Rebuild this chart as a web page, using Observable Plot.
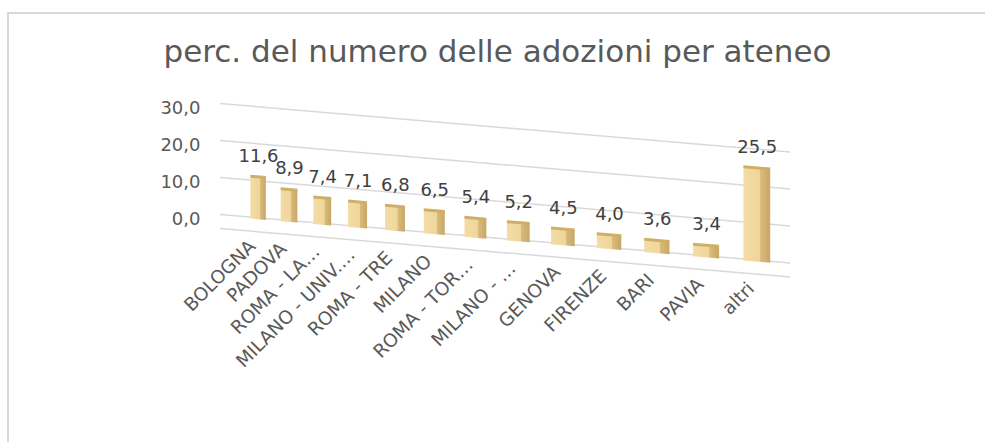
<!DOCTYPE html>
<html><head><meta charset="utf-8">
<script src="https://cdn.jsdelivr.net/npm/d3@7"></script>
<script src="https://cdn.jsdelivr.net/npm/@observablehq/plot@0.6"></script>
<style>
html,body{margin:0;padding:0;background:#fff;overflow:hidden;}
#chart{position:relative;width:985px;height:442px;overflow:hidden;font-family:"DejaVu Sans",Verdana,sans-serif;background:#fff;}
#frame{position:absolute;left:7px;top:12px;width:2000px;height:1000px;border-left:2px solid #d9d9d9;border-top:2px solid #d9d9d9;}
#title{position:absolute;left:5px;width:985px;top:36px;text-align:center;font-size:31px;line-height:31px;color:#595959;white-space:nowrap;}
#chart svg{position:absolute;left:0;top:0;}
</style></head><body>
<div id="chart"><div id="frame"></div><div id="title">perc. del numero delle adozioni per ateneo</div></div>
<script>
const categories = ["BOLOGNA","PADOVA","ROMA - LA…","MILANO - UNIV.…","ROMA - TRE","MILANO","ROMA - TOR…","MILANO - …","GENOVA","FIRENZE","BARI","PAVIA","altri"];
const values = [11.6, 8.9, 7.4, 7.1, 6.8, 6.5, 5.4, 5.2, 4.5, 4.0, 3.6, 3.4, 25.5];
const yTicks = [0, 10, 20, 30];

const OFFSET = 6; // index offset for the perspective (pow) scale
const data = categories.map((c, i) => ({name: c, value: values[i], pos: i + OFFSET}));
const fmt = v => v.toFixed(1).replace(".", ",");
const HALF = 0.26;
const SLOPE = 0.085, X0 = 220;
const ang = Math.atan(SLOPE) * 180 / Math.PI;

const svg = Plot.plot({
  width: 985, height: 442,
  marginLeft: 220, marginRight: 195, marginTop: 103, marginBottom: 228,
  x: {type: "pow", exponent: 1.5, domain: [4.64, 18.64]},
  y: {domain: [0, 30]},
  style: {fontFamily: "'DejaVu Sans', Verdana, sans-serif", background: "transparent", overflow: "visible"},
  marks: [
    Plot.ruleY(yTicks, {stroke: "#d9d9d9", strokeWidth: 1.5}),
    Plot.ruleY([0], {stroke: "#d9d9d9", strokeWidth: 1.5, dy: 14}),
    Plot.rect(data, {x1: d => d.pos - HALF, x2: d => d.pos + HALF, y1: 0, y2: "value", fill: "url(#barGrad)", dy: 2}),
    Plot.ruleY(data, {y: "value", x1: d => d.pos - HALF, x2: d => d.pos + HALF, stroke: "#cfae68", strokeWidth: 3, dy: 2}),
    Plot.text(data, {x: "pos", y: "value", text: d => fmt(d.value), dy: -13, lineAnchor: "bottom", fontSize: 18, fill: "#404040"}),
    Plot.axisY(yTicks, {tickSize: 0, tickPadding: 20, fontSize: 18, fill: "#595959", tickFormat: fmt, label: null, dy: 6}),
    Plot.axisX(data.map(d => d.pos), {tickSize: 0, tickPadding: 26, dx: -6, tickRotate: -45, fontSize: 18.5, fill: "#595959", tickFormat: v => categories[v - OFFSET], label: null})
  ]
});

// gradient for the gold bars
const ns = "http://www.w3.org/2000/svg";
const defs = document.createElementNS(ns, "defs");
defs.innerHTML = `<linearGradient id="barGrad" x1="0" y1="0" x2="1" y2="0">
  <stop offset="0" stop-color="#f3dda5"/>
  <stop offset="0.62" stop-color="#efd59a"/>
  <stop offset="0.64" stop-color="#d9bb7c"/>
  <stop offset="1" stop-color="#c8a765"/>
</linearGradient>`;
svg.insertBefore(defs, svg.firstChild);

// perspective-like skew of the plot, keeping texts upright
const wrap = document.createElementNS(ns, "g");
wrap.setAttribute("transform", `translate(${X0},0) skewY(${ang}) translate(${-X0},0)`);
[...svg.children].filter(c => c.tagName.toLowerCase() === "g").forEach(c => wrap.appendChild(c));
svg.appendChild(wrap);
const isNum = s => s != null && /^\s*-?[\d.]+\s*$/.test(s);
wrap.querySelectorAll("text").forEach(t => {
  const tr = t.getAttribute("transform") || "";
  const m = tr.match(/^\s*translate\([^)]*\)/);
  if (m) {
    t.setAttribute("transform", `${m[0]} skewY(${-ang})${tr.slice(m[0].length)}`);
  } else {
    const xs = t.getAttribute("x"), ys = t.getAttribute("y");
    const x = isNum(xs) ? +xs : 0, y = isNum(ys) ? +ys : 0;
    if (isNum(xs)) t.removeAttribute("x");
    if (isNum(ys)) t.removeAttribute("y");
    t.setAttribute("transform", `translate(${x},${y}) skewY(${-ang}) ${tr}`);
  }
});

document.getElementById("chart").appendChild(svg);
</script>
</body></html>
